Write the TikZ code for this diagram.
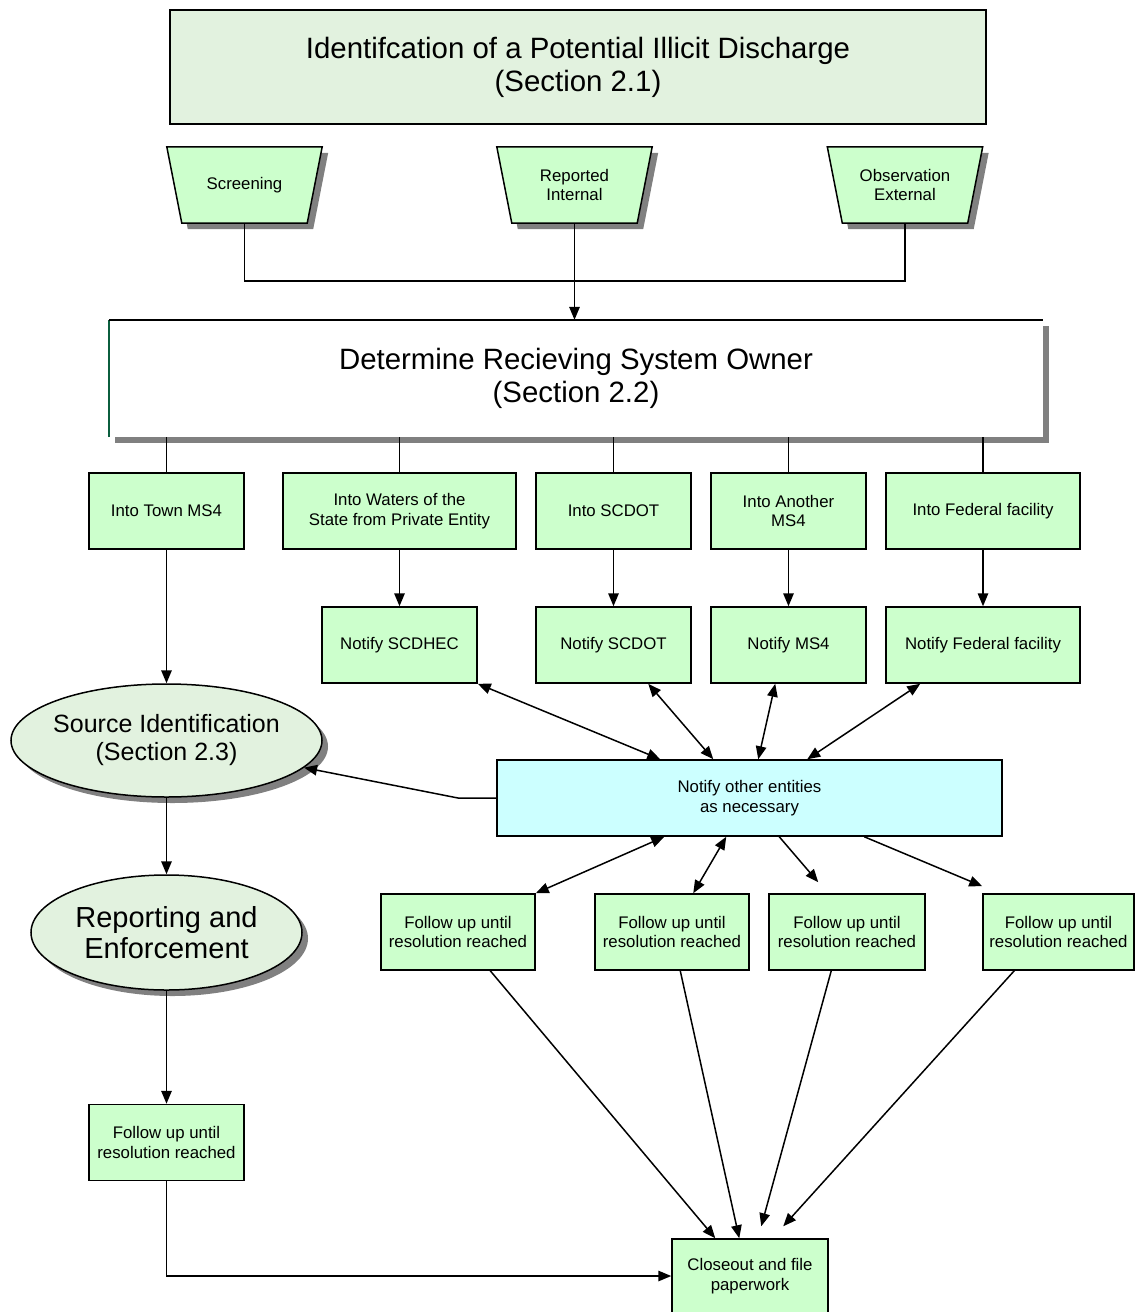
\documentclass[tikz,border=0pt]{standalone}
\usepackage{fontspec}
\setmainfont{Liberation Sans}
\usetikzlibrary{arrows.meta,shapes.geometric,shadows,backgrounds}
\definecolor{boxgreen}{HTML}{CCFFCC}
\definecolor{palegreen}{HTML}{E2F2DF}
\definecolor{cyanbox}{HTML}{CCFFFF}
\definecolor{shadowgray}{HTML}{808080}
\definecolor{darkgreen}{HTML}{0B5E3E}
\newcommand{\smallfs}{\fontsize{16.8}{19.5}\selectfont}
\newcommand{\bigfs}{\fontsize{29.4}{33}\selectfont}
\newcommand{\midfs}{\fontsize{25}{28}\selectfont}
\newcommand{\enffs}{\fontsize{29}{31}\selectfont}
\tikzset{
  conn/.style={line width=1.5pt, draw=black},
  arr/.style={conn, -{Triangle[length=13pt,width=10.5pt]}},
  darr/.style={conn, {Triangle[length=13pt,width=10.5pt]}-{Triangle[length=13pt,width=10.5pt]}},
  gbox/.style={rectangle, draw=black, line width=1.5pt, fill=boxgreen, align=center,
    font=\smallfs, inner sep=0pt, minimum width=155pt, minimum height=76pt},
  traptext/.style={rectangle, align=center, font=\smallfs, inner sep=0pt,
    minimum width=155pt, minimum height=76pt},
  oval/.style={ellipse, draw=black, line width=1.5pt, fill=palegreen, align=center,
    inner xsep=-12pt, inner ysep=0pt,
    general shadow={fill=shadowgray, shadow xshift=6pt, shadow yshift=-6pt}},
}
\begin{document}
\begin{tikzpicture}[x=1pt,y=-1pt]
\useasboundingbox (0,0) rectangle (1135,1312);

% title
\node[rectangle, draw=black, line width=1.5pt, fill=palegreen, minimum width=816pt,
  minimum height=114pt, font=\bigfs, align=center] (top) at (578,67)
  {Identifcation of a Potential Illicit Discharge\\(Section 2.1)};

% trapezoids
\node[traptext] (scr) at (244.5,185) {Screening};
\node[traptext] (rep) at (574.5,185) {Reported\\Internal};
\node[traptext] (obs) at (905,185) {Observation\\External};
\begin{scope}[on background layer]
\foreach \n in {scr,rep,obs}{
  \fill[shadowgray] ([shift={(6,6)}]\n.north west) -- ([shift={(6,6)}]\n.north east)
    -- ([shift={(-9,6)}]\n.south east) -- ([shift={(21,6)}]\n.south west) -- cycle;
  \filldraw[fill=boxgreen, draw=black, line width=1.5pt] (\n.north west) -- (\n.north east)
    -- ([xshift=-15pt]\n.south east) -- ([xshift=15pt]\n.south west) -- cycle;
}
\end{scope}

% determine box
\node[rectangle, fill=white, minimum width=934pt, minimum height=117pt, inner sep=0pt,
  general shadow={fill=shadowgray, shadow xshift=6pt, shadow yshift=-6pt},
  font=\bigfs, align=center] (det) at (576,378.5)
  {Determine Recieving System Owner\\(Section 2.2)};
\draw[darkgreen, line width=1.8pt] (det.south west) -- (det.north west);
\draw[black, line width=2.4pt] (det.north west) -- (det.north east);

\draw[conn] (scr.south) -- ++(0,58) -| (obs.south);
\draw[arr] (rep.south) -- (det.north -| rep.south);

% row 1
\node[gbox] (in1) at (166.5,511) {Into Town MS4};
\node[gbox, minimum width=233pt] (in2) at (399.5,511) {Into Waters of the\\State from Private Entity};
\node[gbox] (in3) at (613.5,511) {Into SCDOT};
\node[gbox] (in4) at (788.5,511) {Into Another\\MS4};
\node[gbox, minimum width=194pt] (in5) at (983,511) {Into Federal facility};
\foreach \n in {in1,in2,in3,in4,in5}{
  \draw[conn] (det.south -| \n.north) -- (\n.north);
}

% row 2
\node[gbox] (n1) at (399.5,645) {Notify SCDHEC};
\node[gbox] (n2) at (613.5,645) {Notify SCDOT};
\node[gbox] (n3) at (788.5,645) {Notify MS4};
\node[gbox, minimum width=194pt] (n4) at (983,645) {Notify Federal facility};
\draw[arr] (in2.south) -- (n1.north);
\draw[arr] (in3.south) -- (n2.north);
\draw[arr] (in4.south) -- (n3.north);
\draw[arr] (in5.south) -- (n4.north);

% ellipses
\node[oval, minimum width=311pt, minimum height=113pt, font=\midfs] (src) at (166.5,740.5)
  {Source Identification\\(Section 2.3)};
\node[oval, minimum width=271pt, minimum height=115pt, font=\enffs] (enf) at (166.5,932.5)
  {Reporting and\\Enforcement};
\draw[arr] (in1.south) -- (src.north);
\draw[arr] (src.south) -- (enf.north);

% notify other
\node[gbox, fill=cyanbox, minimum width=505pt] (oth) at (749.5,798)
  {Notify other entities\\as necessary};
\coordinate (kink) at (458,798);
\draw[arr] (oth.west) -- (kink) -- (src);

\draw[darr] ([xshift=164pt]oth.north west) -- (n1.south east);
\draw[darr] ([xshift=217pt]oth.north west) -- ([xshift=113pt]n2.south west);
\draw[darr] ([xshift=262pt]oth.north west) -- ([xshift=65pt]n3.south west);
\draw[darr] ([xshift=311pt]oth.north west) -- ([xshift=35pt]n4.south west);

% follow ups
\node[gbox, minimum width=154pt] (fu1) at (458,932) {Follow up until\\resolution reached};
\node[gbox, minimum width=154pt] (fu2) at (672,932) {Follow up until\\resolution reached};
\node[gbox, minimum width=156pt] (fu3) at (847,932) {Follow up until\\resolution reached};
\node[gbox, minimum width=151pt] (fu4) at (1058.5,932) {Follow up until\\resolution reached};
\node[gbox] (fu0) at (166.5,1142.5) {Follow up until\\resolution reached};

\draw[darr] ([xshift=168pt]oth.south west) -- (fu1.north east);
\draw[darr] ([xshift=230pt]oth.south west) -- ([xshift=99pt]fu2.north west);
\draw[arr] ([xshift=283pt]oth.south west) -- ([xshift=50pt,yshift=11pt]fu3.north west);
\draw[arr] ([xshift=368pt]oth.south west) -- ([yshift=7pt]fu4.north west);

\draw[arr] (enf.south) -- (fu0.north);

% closeout
\node[gbox, minimum width=156pt, minimum height=74pt] (close) at (750,1276)
  {Closeout and file\\paperwork};
\draw[arr] (fu0.south) |- (close.west);
\draw[arr] ([xshift=110pt]fu1.south west) -- ([xshift=44pt]close.north west);
\draw[arr] ([xshift=86pt]fu2.south west) -- ([xshift=68pt]close.north west);
\draw[arr] ([xshift=63pt]fu3.south west) -- ([xshift=90pt,yshift=12pt]close.north west);
\draw[arr] ([xshift=32pt]fu4.south west) -- ([xshift=112pt,yshift=12pt]close.north west);
\end{tikzpicture}
\end{document}
